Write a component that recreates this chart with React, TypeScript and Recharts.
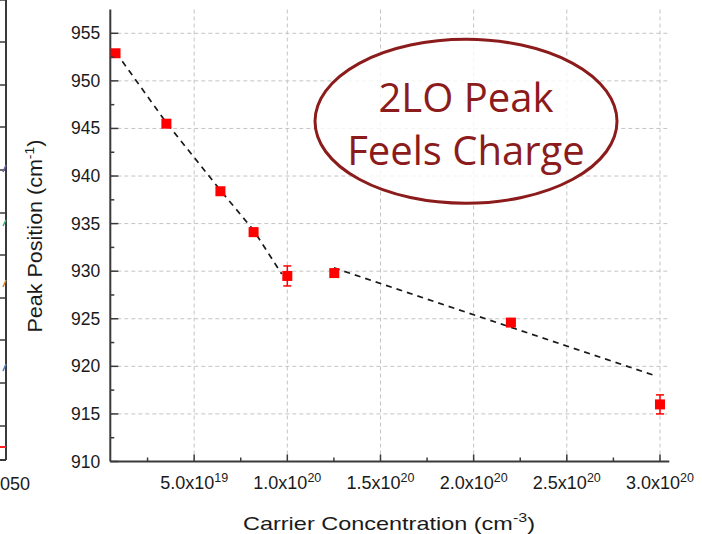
import React from 'react';
import {
  ComposedChart,
  Scatter,
  XAxis,
  YAxis,
  ReferenceLine,
  ReferenceDot,
  ErrorBar,
  Customized,
} from 'recharts';

// carrier concentration in units of 1e20 cm^-3
const pointX = [0.078, 0.351, 0.641, 0.819, 1.0, 1.252, 2.2, 3.0];
const pointY = [952.9, 945.5, 938.4, 934.1, 929.5, 929.8, 924.6, 916.0];
const pointErr = [0.35, 0.2, 0.2, 0.4, 1.05, 0.3, 0.2, 1.0];

// dashed guide lines
const fitLowX = [0.08, 0.351, 0.641, 0.819, 0.97];
const fitLowY = [953.0, 945.6, 938.5, 934.3, 929.7];
const fitHighX = [1.25, 2.98];
const fitHighY = [930.35, 918.98];

const xMajor = [0.5, 1, 1.5, 2, 2.5, 3];
const xMinor = [0.25, 0.75, 1.25, 1.75, 2.25, 2.75];
const xTickMantissa = ['5.0', '1.0', '1.5', '2.0', '2.5', '3.0'];
const xTickExp = ['19', '20', '20', '20', '20', '20'];
const yMajor = [910, 915, 920, 925, 930, 935, 940, 945, 950, 955];
const yMinor = [912.5, 917.5, 922.5, 927.5, 932.5, 937.5, 942.5, 947.5, 952.5];

const noteX = 1.959;
const noteY = 945.75;
const noteLines = ['2LO Peak', 'Feels Charge'];

const points = pointX.map((x, i) => ({ x, y: pointY[i], err: pointErr[i] }));
const fitLow = fitLowX.map((x, i) => ({ x, y: fitLowY[i] }));
const fitHigh = fitHighX.map((x, i) => ({ x, y: fitHighY[i] }));
const xTicks = [...xMajor, ...xMinor].sort((a, b) => a - b);
const yTicks = [...yMajor, ...yMinor].sort((a, b) => a - b);

const AXIS = '#3a3a3a';
const FONT = '"Liberation Sans", Arial, sans-serif';
const NOTE = '#8c1c1c';
const RED = '#ff0000';

const BottomTick = ({ x, y, payload }: any) => {
  const i = xMajor.indexOf(payload.value);
  return (
    <g>
      <line x1={x} x2={x} y1={y} y2={y - (i >= 0 ? 7 : 4)} stroke={AXIS} strokeWidth={1.5} />
      {i >= 0 && (
        <text x={x} y={y + 27} textAnchor="middle" fontSize={18} fill="#1a1a1a" fontFamily={FONT}>
          {xTickMantissa[i]}x10
          <tspan dy={-7} fontSize={12.5}>{xTickExp[i]}</tspan>
        </text>
      )}
    </g>
  );
};

const TopTick = ({ x, y, payload }: any) => {
  const major = xMajor.includes(payload.value);
  return <line x1={x} x2={x} y1={y} y2={y + (major ? 7 : 4)} stroke={AXIS} strokeWidth={1.5} />;
};

const LeftTick = ({ x, y, payload }: any) => {
  const major = yMajor.includes(payload.value);
  return (
    <g>
      <line x1={x} x2={x + (major ? 8 : 4)} y1={y} y2={y} stroke={AXIS} strokeWidth={1.5} />
      {major && (
        <text x={x - 10} y={y + 6} textAnchor="end" fontSize={17.5} fill="#1a1a1a" fontFamily={FONT}>
          {payload.value}
        </text>
      )}
    </g>
  );
};

const RightTick = ({ x, y, payload }: any) => {
  const major = yMajor.includes(payload.value);
  return <line x1={x} x2={x - (major ? 7 : 4)} y1={y} y2={y} stroke={AXIS} strokeWidth={1.5} />;
};

const Square = ({ cx, cy }: any) => (
  <rect x={cx - 5} y={cy - 5} width={10} height={10} fill={RED} />
);

const NoteShape = ({ cx, cy }: any) => (
  <g>
    <ellipse cx={cx} cy={cy} rx={151} ry={82} fill="#fff" fillOpacity={0.8} stroke={NOTE} strokeWidth={3} />
    <text x={cx} y={cy - 9.5} textAnchor="middle" fontSize={40} fill={NOTE} fontFamily='"Open Sans", sans-serif'>
      {noteLines[0]}
    </text>
    <text x={cx} y={cy + 44} textAnchor="middle" fontSize={40} fill={NOTE} fontFamily='"Open Sans", sans-serif'>
      {noteLines[1]}
    </text>
  </g>
);

// fragment of the neighbouring panel and the axis titles
const Decor = () => (
  <g>
    <line x1={6} x2={6} y1={0} y2={460} stroke={AXIS} strokeWidth={2} />
    <line x1={0} x2={6} y1={460} y2={460} stroke={AXIS} strokeWidth={2} />
    {[0, 42, 85, 127, 170, 213, 255, 298, 340, 383, 426].map((ty, i) => (
      <line key={i} x1={0} x2={6} y1={ty} y2={ty} stroke={AXIS} strokeWidth={1.5} />
    ))}
    <line x1={3} x2={6} y1={172} y2={165} stroke="#6b5fb5" strokeWidth={1.5} />
    <line x1={3} x2={6} y1={226} y2={220} stroke="#3cb371" strokeWidth={1.5} />
    <line x1={3} x2={6} y1={287} y2={280} stroke="#d9822b" strokeWidth={1.5} />
    <line x1={3} x2={6} y1={371} y2={364} stroke="#4a7fc1" strokeWidth={1.5} />
    <line x1={0} x2={6} y1={447} y2={447} stroke="#ff2020" strokeWidth={2} />
    <text x={0} y={490} fontSize={18} fill="#1a1a1a" fontFamily={FONT}>050</text>
    <text
      x={42}
      y={236}
      transform="rotate(-90 42 236)"
      textAnchor="middle"
      fontSize={20}
      fill="#1a1a1a"
      fontFamily={FONT}
      textLength={193}
      lengthAdjust="spacingAndGlyphs"
    >
      Peak Position (cm
      <tspan dy={-8} fontSize={13}>-1</tspan>
      <tspan dy={8}>)</tspan>
    </text>
    <text
      x={389}
      y={530}
      textAnchor="middle"
      fontSize={19}
      fill="#1a1a1a"
      fontFamily={FONT}
      textLength={292}
      lengthAdjust="spacingAndGlyphs"
    >
      Carrier Concentration (cm
      <tspan dy={-8} fontSize={13}>-3</tspan>
      <tspan dy={8}>)</tspan>
    </text>
  </g>
);

export default function App() {
  return (
    <div style={{ position: 'absolute', left: 0, top: 0, background: '#fff' }}>
      <ComposedChart width={702} height={534} margin={{ top: 9.5, right: 32.7, bottom: 0, left: 0 }}>
        <XAxis
          xAxisId="b"
          dataKey="x"
          type="number"
          domain={[0.05, 3.05]}
          ticks={xTicks}
          interval={0}
          height={72.5}
          tickSize={0}
          tickMargin={0}
          tick={<BottomTick />}
          axisLine={{ stroke: AXIS, strokeWidth: 2 }}
          allowDataOverflow
        />
        <XAxis
          xAxisId="t"
          orientation="top"
          dataKey="x"
          type="number"
          domain={[0.05, 3.05]}
          ticks={xTicks}
          interval={0}
          height={0}
          tickSize={0}
          tickMargin={0}
          tick={<TopTick />}
          axisLine={{ stroke: AXIS, strokeWidth: 2 }}
          allowDataOverflow
        />
        <YAxis
          yAxisId="l"
          type="number"
          domain={[910, 957.5]}
          ticks={yTicks}
          interval={0}
          width={110.3}
          tickSize={0}
          tickMargin={0}
          tick={<LeftTick />}
          axisLine={{ stroke: AXIS, strokeWidth: 2 }}
          allowDataOverflow
        />
        <YAxis
          yAxisId="r"
          orientation="right"
          type="number"
          domain={[910, 957.5]}
          ticks={yTicks}
          interval={0}
          width={0}
          tickSize={0}
          tickMargin={0}
          tick={<RightTick />}
          axisLine={{ stroke: AXIS, strokeWidth: 2 }}
          allowDataOverflow
        />
        {xMajor.map((v) => (
          <ReferenceLine key={'gx' + v} x={v} xAxisId="b" yAxisId="l" stroke="#c4c4c4" strokeDasharray="4 3" />
        ))}
        {yMajor.slice(1).map((v) => (
          <ReferenceLine key={'gy' + v} y={v} xAxisId="b" yAxisId="l" stroke="#c4c4c4" strokeDasharray="4 3" />
        ))}
        <ReferenceDot x={noteX} y={noteY} xAxisId="b" yAxisId="l" shape={<NoteShape />} />
        <Scatter
          data={fitLow}
          dataKey="y"
          xAxisId="b"
          yAxisId="l"
          line={{ stroke: '#1a1a1a', strokeWidth: 1.7, strokeDasharray: '6 5' }}
          lineType="joint"
          shape={() => <g />}
          isAnimationActive={false}
        />
        <Scatter
          data={fitHigh}
          dataKey="y"
          xAxisId="b"
          yAxisId="l"
          line={{ stroke: '#1a1a1a', strokeWidth: 1.7, strokeDasharray: '6 5' }}
          lineType="joint"
          shape={() => <g />}
          isAnimationActive={false}
        />
        <Scatter data={points} xAxisId="b" yAxisId="l" dataKey="y" shape={<Square />} isAnimationActive={false}>
          <ErrorBar dataKey="err" direction="y" width={4} stroke={RED} strokeWidth={1.5} />
        </Scatter>
        <Customized component={Decor} />
      </ComposedChart>
    </div>
  );
}
